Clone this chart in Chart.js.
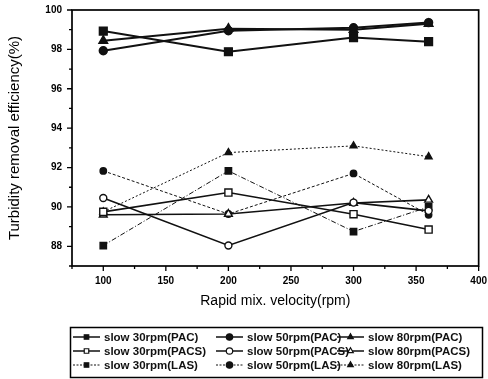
<!DOCTYPE html>
<html><head><meta charset="utf-8">
<script src="https://cdn.jsdelivr.net/npm/chart.js@4.4.0/dist/chart.umd.min.js"></script>
<style>html,body{margin:0;padding:0;background:#fff;}#wrap{width:488px;height:379px;}</style>
</head><body><div id="wrap"><canvas id="c" width="488" height="379"></canvas></div>
<script>
// ---- data ----
const rpm = [100, 200, 300, 360];
const pac30  = [98.93, 97.88, 98.60, 98.39];
const pac50  = [97.93, 98.95, 99.10, 99.36];
const pac80  = [98.44, 99.05, 99.00, 99.30];
const pacs30 = [89.75, 90.73, 89.63, 88.85];
const pacs50 = [90.45, 88.04, 90.22, 89.80];
const pacs80 = [89.60, 89.64, 90.20, 90.36];
const las30  = [88.04, 91.83, 88.75, 90.00];
const las50  = [91.83, 89.64, 91.70, 89.60];
const las80  = [89.75, 92.76, 93.10, 92.55];
const seriesLabels = ['slow 30rpm(PAC)','slow 50rpm(PAC)','slow 80rpm(PAC)',
  'slow 30rpm(PACS)','slow 50rpm(PACS)','slow 80rpm(PACS)',
  'slow 30rpm(LAS)','slow 50rpm(LAS)','slow 80rpm(LAS)'];
const xTickLabels = [100, 150, 200, 250, 300, 350, 400];
const yTickLabels = [88, 90, 92, 94, 96, 98, 100];
const xTitle = 'Rapid mix. velocity(rpm)';
const yTitle = 'Turbidity removal efficiency(%)';

const seriesValues = [pac30, pac50, pac80, pacs30, pacs50, pacs80, las30, las50, las80];
const styles = [
  {ps:'rect', r:5.5, fill:true, w:2, dash:[]},
  {ps:'circle', r:4, fill:true, w:2, dash:[]},
  {ps:'triangle', r:5, fill:true, w:2, dash:[]},
  {ps:'rect', r:5, fill:false, w:1.6, dash:[]},
  {ps:'circle', r:3.5, fill:false, w:1.6, dash:[]},
  {ps:'triangle', r:4.5, fill:false, w:1.6, dash:[]},
  {ps:'rect', r:4.5, fill:true, w:1, dash:[5,2,1,2]},
  {ps:'circle', r:3.2, fill:true, w:1, dash:[3,2]},
  {ps:'triangle', r:4, fill:true, w:1, dash:[2,2]}
];
const INK = '#111';

const datasets = seriesValues.map((vals, i) => {
  const s = styles[i];
  return {
    label: seriesLabels[i],
    data: rpm.map((x, k) => ({x, y: vals[k]})),
    borderColor: INK, borderWidth: s.w, borderDash: s.dash,
    pointStyle: s.ps, pointRadius: s.r, pointHoverRadius: s.r,
    pointBackgroundColor: s.fill ? INK : '#fff',
    pointBorderColor: INK, pointBorderWidth: 1.4,
    tension: 0, fill: false
  };
});

Chart.defaults.font.family = '"Liberation Sans", Arial, sans-serif';
Chart.defaults.color = '#000';

const framePlugin = {
  id: 'frame',
  afterDraw(chart) {
    const {ctx, chartArea: a, scales: {x, y}} = chart;
    ctx.save();
    ctx.strokeStyle = '#000';
    ctx.lineWidth = 1.7;
    ctx.strokeRect(a.left, a.top, a.right - a.left, a.bottom - a.top);
    ctx.lineWidth = 1.3;
    ctx.beginPath();
    x.ticks.forEach(t => {
      const px = x.getPixelForValue(t.value);
      const len = xTickLabels.includes(t.value) ? 5 : 3;
      ctx.moveTo(px, a.bottom); ctx.lineTo(px, a.bottom + len);
    });
    y.ticks.forEach(t => {
      const py = y.getPixelForValue(t.value);
      const len = yTickLabels.includes(t.value) ? 5 : 3;
      ctx.moveTo(a.left, py); ctx.lineTo(a.left - len, py);
    });
    ctx.stroke();

    // legend
    const box = {l: 70, t: 327, r: 482, b: 377};
    ctx.lineWidth = 1.5;
    ctx.strokeRect(box.l + 0.5, box.t + 0.5, box.r - box.l, box.b - box.t);
    const rowsY = [337, 351, 365];
    const colSample = [73, 216, 337];
    const sampleLen = 27;
    ctx.font = 'bold 11.5px "Liberation Sans", Arial, sans-serif';
    ctx.textBaseline = 'middle';
    ctx.textAlign = 'left';
    chart.data.datasets.forEach((ds, i) => {
      const row = Math.floor(i / 3), col = i % 3;
      const yy = rowsY[row], x0 = colSample[col];
      ctx.save();
      ctx.strokeStyle = INK;
      ctx.lineWidth = Math.min(ds.borderWidth, 1.5);
      ctx.setLineDash(ds.borderDash && ds.borderDash.length ? [2, 1.5] : []);
      ctx.beginPath(); ctx.moveTo(x0, yy); ctx.lineTo(x0 + sampleLen, yy); ctx.stroke();
      ctx.setLineDash([]);
      ctx.fillStyle = ds.pointBackgroundColor;
      ctx.lineWidth = 1.2;
      Chart.helpers.drawPoint(ctx, {pointStyle: ds.pointStyle, radius: Math.min(ds.pointRadius, 3.2), borderWidth: 1.2, rotation: 0}, x0 + sampleLen / 2, yy);
      ctx.fillStyle = INK;
      ctx.fillText(ds.label, x0 + sampleLen + 4, yy + 0.5);
      ctx.restore();
    });
    ctx.restore();
  }
};

const hiddenGrid = {display: true, drawOnChartArea: false, drawTicks: true, color: 'rgba(0,0,0,0)'};

new Chart(document.getElementById('c'), {
  type: 'line',
  data: {datasets},
  plugins: [framePlugin],
  options: {
    responsive: false, animation: false, devicePixelRatio: 1,
    layout: {padding: {top: 4, right: 0, left: 0, bottom: 0}},
    plugins: {legend: {display: false}, tooltip: {enabled: false}},
    scales: {
      x: {
        type: 'linear', min: 75, max: 400,
        grid: Object.assign({}, hiddenGrid, {tickLength: 8}), border: {display: false},
        ticks: {stepSize: 25, autoSkip: false, maxRotation: 0, padding: 1,
          font: {size: 10, weight: 'bold'}, color: '#000',
          callback: v => xTickLabels.includes(v) ? String(v) : ''},
        title: {display: true, text: xTitle, font: {size: 14}, color: '#000', padding: {top: 0, bottom: 69}},
        afterFit(s) { s.height = 379 - 266; }
      },
      y: {
        min: 87, max: 100,
        grid: Object.assign({}, hiddenGrid, {tickLength: 6}), border: {display: false},
        ticks: {stepSize: 1, autoSkip: false, padding: 4,
          font: {size: 10, weight: 'bold'}, color: '#000',
          callback: v => yTickLabels.includes(v) ? String(v) : ''},
        title: {display: true, text: yTitle, font: {size: 15}, color: '#000', padding: {top: 6, bottom: 0}},
        afterFit(s) { s.width = 72; }
      }
    }
  }
});
</script></body></html>
